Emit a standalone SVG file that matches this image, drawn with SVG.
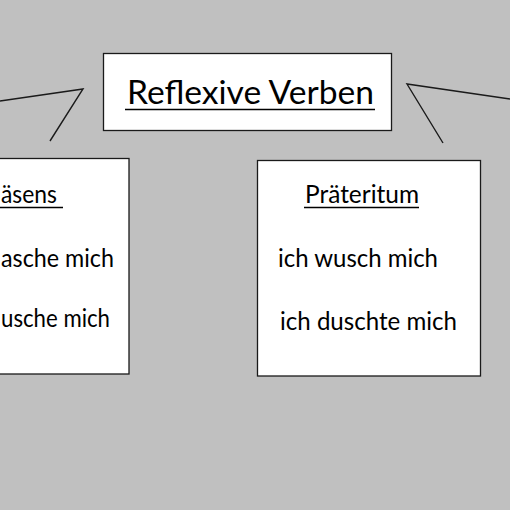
<svg xmlns="http://www.w3.org/2000/svg" width="510" height="510" viewBox="0 0 510 510">
<style>
.box{fill:#fff;stroke:#1a1a1a;stroke-width:1.3}
.t{font-family:Lato,"Liberation Sans",sans-serif;fill:#000;font-size:24.5px}
.ul{stroke:#000;stroke-width:1.5}
.c{stroke:#1a1a1a;stroke-width:1.4;fill:none}
</style>
<rect width="510" height="510" fill="#c0c0c0"/>
<g id="connectors">
<polyline class="c" points="0,101 83,89 50,141"/>
<polyline class="c" points="510,99 407,84 443,143"/>
</g>
<g id="title">
<rect class="box" x="103.5" y="53.5" width="288" height="77"/>
<text class="t" x="127" y="104" style="font-size:33px" textLength="247" lengthAdjust="spacingAndGlyphs">Reflexive Verben</text>
<line class="ul" x1="125" y1="109.5" x2="375" y2="109.5" stroke-width="2"/>
</g>
<g id="praesens">
<rect class="box" x="-10" y="158.5" width="139" height="215.5"/>
<text class="t" x="1" y="203" textLength="56" lengthAdjust="spacingAndGlyphs">äsens</text>
<line class="ul" x1="0" y1="207.5" x2="63" y2="207.5"/>
<text class="t" x="1" y="267" textLength="113" lengthAdjust="spacingAndGlyphs">asche mich</text>
<text class="t" x="1" y="327" textLength="109" lengthAdjust="spacingAndGlyphs">usche mich</text>
</g>
<g id="praeteritum">
<rect class="box" x="257.5" y="160.5" width="223" height="215.5"/>
<text class="t" x="305" y="203" textLength="114" lengthAdjust="spacingAndGlyphs">Präteritum</text>
<line class="ul" x1="304" y1="207.5" x2="419" y2="207.5"/>
<text class="t" x="278" y="267" textLength="160" lengthAdjust="spacingAndGlyphs">ich wusch mich</text>
<text class="t" x="280" y="330" textLength="177" lengthAdjust="spacingAndGlyphs">ich duschte mich</text>
</g>
</svg>
